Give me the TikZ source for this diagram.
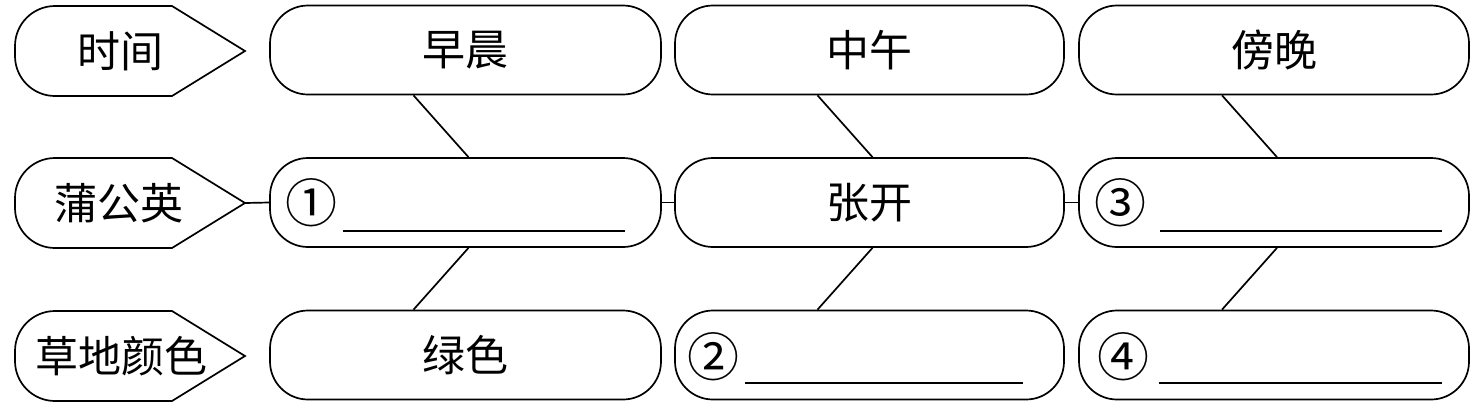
\documentclass[tikz,border=0pt]{standalone}
\usepackage{fontspec}
\newfontfamily\cjk{Noto Sans CJK SC}
\begin{document}
\begin{tikzpicture}[x=1pt,y=-1pt,
  line width=1.7pt,
  every node/.style={font=\cjk\fontsize{43}{50}\selectfont},
  box/.style={draw,rounded corners=38pt,minimum height=89pt,inner sep=0pt},
  circnum/.style={font=\cjk\fontsize{52}{56}\selectfont,inner sep=0pt}]
\useasboundingbox (0,0) rectangle (1480,416);
% label shapes
\foreach \yc/\nm in {51/tipA,203/tipB,356/tipC}{
  \draw (172,\yc-45) -- (245,\yc) -- (172,\yc+45) -- (55,\yc+45)
    arc[start angle=90,end angle=180,radius=40] -- (15,\yc-5)
    arc[start angle=180,end angle=270,radius=40] -- cycle;
  \coordinate (\nm) at (245,\yc);
}
\node (l1) at (120,51) {时间};
\node (l2) at (119,203) {蒲公英};
\node (l3) at (121,356) {草地颜色};
% boxes
\node[box,minimum width=391pt] (b11) at (465.5,50) {早晨};
\node[box,minimum width=389pt] (b12) at (869.5,50) {中午};
\node[box,minimum width=390pt] (b13) at (1274,50) {傍晚};
\node[box,minimum width=391pt] (b21) at (465.5,202.5) {};
\node[box,minimum width=389pt] (b22) at (869.5,202.5) {张开};
\node[box,minimum width=390pt] (b23) at (1274,202.5) {};
\node[box,minimum width=391pt] (b31) at (465.5,355) {绿色};
\node[box,minimum width=389pt] (b32) at (869.5,355) {};
\node[box,minimum width=390pt] (b33) at (1274,355) {};
% circled numbers and blanks
\node[circnum] (n1) at (311,203) {①};
\node[circnum] (n3) at (1120,203) {③};
\node[circnum] (n2) at (713,357) {②};
\node[circnum] (n4) at (1123,357) {④};
\draw (343,231) -- (625,231);
\draw (1160,231) -- (1442,231);
\draw (745,383) -- (1023,383);
\draw (1159,383) -- (1442,383);
% connectors
\draw (tipB) -- (b21.west);
\draw (b21.east) -- (b22.west);
\draw (b22.east) -- (b23.west);
\foreach \c in {1,2,3}{
  \draw ([xshift=-52pt]b1\c.south) -- ([xshift=3pt]b2\c.north);
  \draw ([xshift=3pt]b2\c.south) -- ([xshift=-52pt]b3\c.north);
}
\end{tikzpicture}
\end{document}
